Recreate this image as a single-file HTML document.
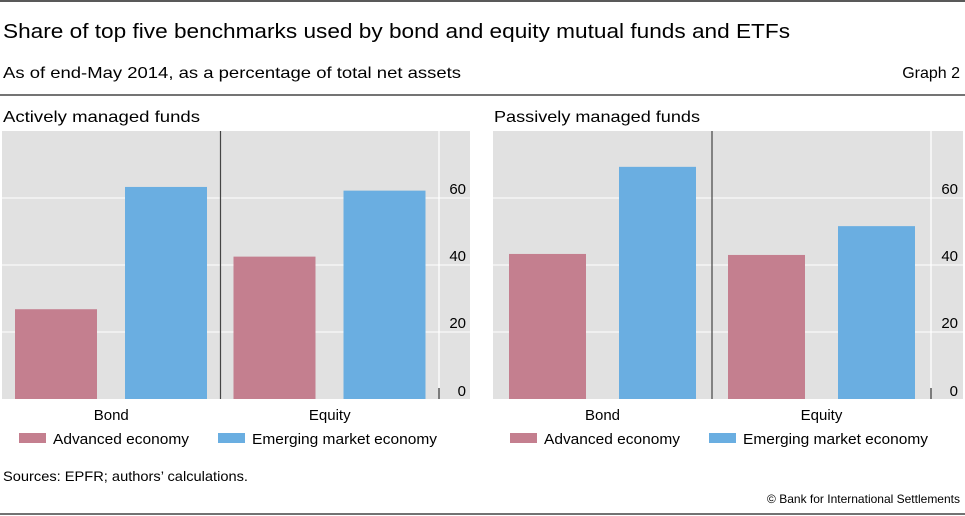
<!DOCTYPE html>
<html><head><meta charset="utf-8"><style>
html,body{margin:0;padding:0;background:#fff;}
svg{display:block;font-family:"Liberation Sans",Arial,sans-serif;}
</style></head><body>
<svg id="c" width="965" height="516" viewBox="0 0 965 516">
<line x1="0" y1="1" x2="965" y2="1" stroke="#222" stroke-width="1.5"/>
<text x="3" y="38" font-size="20" fill="#000" textLength="787" lengthAdjust="spacingAndGlyphs">Share of top five benchmarks used by bond and equity mutual funds and ETFs</text>
<text x="3" y="78" font-size="16" fill="#000" textLength="458" lengthAdjust="spacingAndGlyphs">As of end-May 2014, as a percentage of total net assets</text>
<text x="960" y="78" font-size="16" text-anchor="end" fill="#000">Graph 2</text>
<line x1="0" y1="95" x2="965" y2="95" stroke="#222" stroke-width="1.2"/>
<g id="panels"></g>
<text x="3" y="481" font-size="14" fill="#000" textLength="245" lengthAdjust="spacingAndGlyphs">Sources: EPFR; authors’ calculations.</text>
<text x="960" y="503" font-size="12" text-anchor="end" fill="#000">© Bank for International Settlements</text>
<line x1="0" y1="514" x2="965" y2="514" stroke="#444" stroke-width="1.5"/>
</svg>
<script>
const categories = ["Bond", "Equity"];
const series = ["Advanced economy", "Emerging market economy"];
const activeAdvanced = [26.8, 42.5];
const activeEmerging = [63.3, 62.2];
const passiveAdvanced = [43.3, 43.0];
const passiveEmerging = [69.3, 51.6];
const yTicks = [0, 20, 40, 60];
const yMax = 80;

const NS = "http://www.w3.org/2000/svg";
const colors = ["#c47f8f", "#6aaee1"];
const legLens = [136, 185];
function mk(tag, attrs, parent) {
  const e = document.createElementNS(NS, tag);
  for (const k in attrs) e.setAttribute(k, attrs[k]);
  parent.appendChild(e);
  return e;
}
const root = document.getElementById("panels");
const panels = [
  {title: "Actively managed funds", tl: 197, name: "active", x0: 2, x1: 470, pEnd: 439, vals: [activeAdvanced, activeEmerging], off: [13, 123], bw: 82, lx: 466, legX: 19},
  {title: "Passively managed funds", tl: 206, name: "passive", x0: 493, x1: 963, pEnd: 931, vals: [passiveAdvanced, passiveEmerging], off: [16, 126], bw: 77, lx: 958, legX: 510}
];
const yTop = 131, yBot = 399;
function yScale(v) { return yBot - (v / yMax) * (yBot - yTop); }
panels.forEach(p => {
  const g = mk("g", {}, root);
  
  
  const t = mk("text", {x: p.x0 + 1, y: 122, "font-size": 16, fill: "#000", textLength: p.tl, lengthAdjust: "spacingAndGlyphs"}, g);
  t.textContent = p.title;
  
  
  const bg = mk("rect", {x: p.x0, y: yTop, width: p.x1 - p.x0, height: yBot - yTop, fill: "#e1e1e1"}, g);
  
  
  yTicks.forEach(v => {
    if (v > 0) {
      const gl = mk("line", {x1: p.x0, x2: p.x1, y1: yScale(v), y2: yScale(v), stroke: "#fff", "stroke-width": 1}, g);
      
      
    }
    const lb = mk("text", {x: p.lx, y: yScale(v) - (v === 0 ? 3 : 4), "font-size": 15, "text-anchor": "end", fill: "#000"}, g);
    lb.textContent = v;
    
    
  });
  const vl = mk("line", {x1: p.pEnd, x2: p.pEnd, y1: yTop, y2: yBot, stroke: "#fff", "stroke-width": 1.3}, g);
  
  
  const cw = (p.pEnd - p.x0) / categories.length;
  const dv = mk("line", {x1: p.x0 + cw, x2: p.x0 + cw, y1: yTop, y2: yBot, stroke: "#444", "stroke-width": 1.2}, g);
  
  
  const tk = mk("line", {x1: p.pEnd, x2: p.pEnd, y1: yBot - 11, y2: yBot, stroke: "#333", "stroke-width": 1.2}, g);
  
  
  categories.forEach((c, ci) => {
    const cx = p.x0 + ci * cw;
    p.vals.forEach((arr, si) => {
      const y = yScale(arr[ci]);
      const b = mk("rect", {x: cx + p.off[si], y: y, width: p.bw, height: yBot - y, fill: colors[si]}, g);
      
      
    });
    const cl = mk("text", {x: cx + cw / 2, y: 420, "font-size": 15, "text-anchor": "middle", fill: "#000"}, g);
    cl.textContent = c;
    
    
  });
  series.forEach((s, si) => {
    const lx = p.legX + si * 199;
    const le = mk("g", {}, g);
    
    
    mk("rect", {x: lx, y: 433, width: 27, height: 10, fill: colors[si]}, le);
    const lt = mk("text", {x: lx + 34, y: 444, "font-size": 15, fill: "#000", textLength: legLens[si], lengthAdjust: "spacingAndGlyphs"}, le);
    lt.textContent = s;
  });
});
</script>
</body></html>
